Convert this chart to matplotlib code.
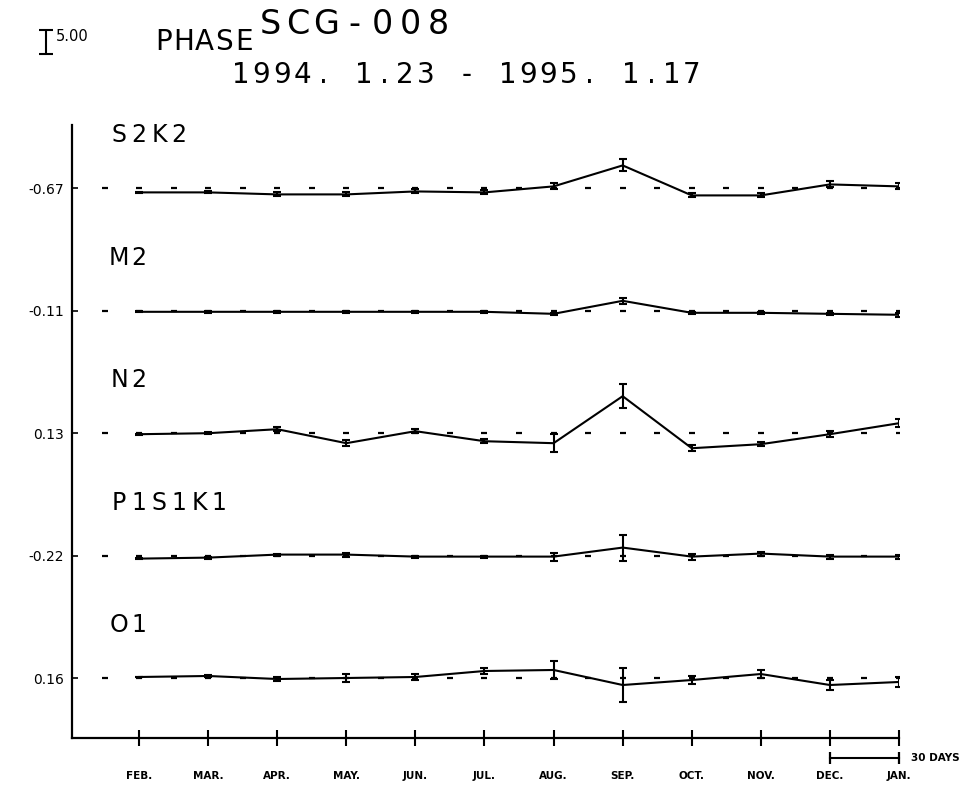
import numpy as np
import matplotlib
matplotlib.use("Agg")
import matplotlib.pyplot as plt
import matplotlib.transforms as mtransforms

# DATA
# one point per month, Feb 1994 .. Jan 1995
months = ["FEB.", "MAR.", "APR.", "MAY.", "JUN.", "JUL.",
          "AUG.", "SEP.", "OCT.", "NOV.", "DEC.", "JAN."]

# constituents, top to bottom, with the reference phase printed at the left
names = ["S2K2", "M2", "N2", "P1S1K1", "O1"]
ref_labels = ["-0.67", "-0.11", "0.13", "-0.22", "0.16"]
ref_phase = [-0.67, -0.11, 0.13, -0.22, 0.16]

# phase (deg) and its error
s2k2 = [-1.50, -1.50, -1.92, -1.92, -1.30, -1.50, -0.25, 4.12, -2.13, -2.13, 0.16, -0.25]
s2k2_err = [0.08, 0.21, 0.42, 0.42, 0.42, 0.42, 0.63, 1.25, 0.42, 0.42, 0.63, 0.63]

m2 = [-0.32, -0.32, -0.32, -0.32, -0.32, -0.32, -0.74, 1.97, -0.53, -0.53, -0.74, -0.94]
m2_err = [0.08, 0.21, 0.21, 0.21, 0.21, 0.21, 0.21, 0.63, 0.21, 0.21, 0.21, 0.42]

n2 = [-0.08, 0.13, 0.96, -1.95, 0.55, -1.54, -1.95, 7.84, -3.00, -2.16, -0.08, 2.21]
n2_err = [0.08, 0.21, 0.42, 0.63, 0.42, 0.42, 1.88, 2.50, 0.63, 0.42, 0.63, 0.83]

p1s1k1 = [-0.85, -0.64, -0.01, -0.01, -0.43, -0.43, -0.43, 1.45, -0.43, 0.20, -0.43, -0.43]
p1s1k1_err = [0.08, 0.21, 0.21, 0.42, 0.21, 0.21, 0.83, 2.71, 0.63, 0.42, 0.42, 0.42]

o1 = [0.37, 0.58, -0.05, 0.16, 0.37, 1.62, 1.83, -1.30, -0.26, 0.99, -1.30, -0.67]
o1_err = [0.08, 0.21, 0.42, 0.83, 0.63, 0.63, 1.88, 3.54, 0.83, 0.83, 1.04, 1.04]

series = [s2k2, m2, n2, p1s1k1, o1]
errors = [s2k2_err, m2_err, n2_err, p1s1k1_err, o1_err]

scale_deg = 5.00     # vertical scale bar
scale_days = 30      # horizontal scale bar (one month)

# LAYOUT
W, H = 965, 790
fig = plt.figure(figsize=(W / 100, H / 100), dpi=100)
ax = fig.add_axes([72 / W, 52 / H, 827 / W, 613 / H])

px_per_deg = 4.8
ax.set_ylim(0, 613 / px_per_deg)
ax.set_xlim(-67 / 69, len(months) - 1)

spacing = 122.4 / px_per_deg
offsets = 60 / px_per_deg + spacing * np.arange(len(names))[::-1]

x = np.arange(len(months))
half = np.arange(-0.5, len(months) - 0.9, 0.5)

for k in range(len(names)):
    off = offsets[k]
    y = off + np.array(series[k]) - ref_phase[k]
    # reference level dashes every half month
    ax.plot(half, np.full(len(half), off), ls="none", marker="_",
            ms=5, mew=1.6, color="black")
    ax.errorbar(x, y, yerr=errors[k], color="black", lw=1.5,
                elinewidth=1.5, capsize=3, capthick=1.5)

# axes look like the plotter frame
for s in ["top", "right"]:
    ax.spines[s].set_visible(False)
ax.spines["left"].set_linewidth(1.6)
ax.spines["bottom"].set_linewidth(1.6)

ax.set_xticks(x)
ax.set_xticklabels(months, fontsize=7.5, fontweight="bold")
ax.tick_params(axis="x", direction="inout", length=12, width=1.5, pad=18)
ax.set_yticks(offsets)
ax.set_yticklabels(ref_labels, fontsize=10)
ax.tick_params(axis="y", direction="in", length=4, width=1.2, pad=6)


def plot_letters(x0, y0, s, size, pitch, trans):
    # plotter lettering: every character on a fixed, wide pitch
    for i, ch in enumerate(s):
        if ch == " ":
            continue
        t = mtransforms.offset_copy(trans, fig=fig, x=i * pitch, units="dots")
        fig.text(x0, y0, ch, fontsize=size, transform=t,
                 ha="center", va="baseline", color="black")


# constituent names above each reference level
name_dx = -20 / 69
for k, nm in enumerate(names):
    plot_letters(name_dx, offsets[k] + 46 / px_per_deg, nm, 17, 20, ax.transData)

# titles (figure fractions)
plot_letters(270 / W, 1 - 34 / H, "SCG-008", 24, 28, fig.transFigure)
plot_letters(164 / W, 1 - 50 / H, "PHASE", 20, 20, fig.transFigure)
plot_letters(241 / W, 1 - 83 / H, "1994. 1.23 - 1995. 1.17", 20, 20.5, fig.transFigure)

# vertical scale bar: 5 degrees
bar_x = -93 / 69
bar_y = (738 - 42) / px_per_deg
eb = ax.errorbar([bar_x], [bar_y], yerr=scale_deg / 2, color="black",
                 elinewidth=1.5, capsize=5, capthick=1.5)
for art in eb.lines[1] + eb.lines[2]:
    art.set_clip_on(False)
ax.text(bar_x + 10 / 69, bar_y + scale_deg / 2 + 1 / px_per_deg, "%.2f" % scale_deg,
        fontsize=10.5, ha="left", va="top")

# horizontal scale bar: 30 days, December to January
d0 = months.index("DEC.")
d1 = d0 + scale_days / 30
bar_low = -20 / px_per_deg
ax.plot([d0, d1], [bar_low, bar_low], color="black", lw=1.5, clip_on=False)
ax.plot([d0, d1], [bar_low, bar_low], ls="none", marker="|", ms=9, mew=1.6,
        color="black", clip_on=False)
ax.text(d1 + 12 / 69, bar_low, "30 DAYS", fontsize=7.5, fontweight="bold",
        ha="left", va="center")

fig.savefig("out.png", dpi=100, facecolor="white")
